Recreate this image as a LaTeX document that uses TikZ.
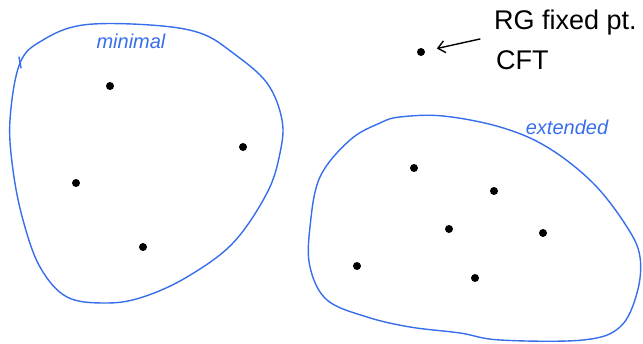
\documentclass[tikz,border=0pt]{standalone}
\usepackage{fontspec}
\setmainfont{Liberation Sans}
\usetikzlibrary{arrows.meta}
\definecolor{pen}{RGB}{55,110,235}
\tikzset{
  blob/.style={draw=pen, line width=1.4pt, line join=round},
  pt/.style={circle, fill=black, inner sep=0pt, minimum size=8pt},
  bluelabel/.style={text=pen, font=\fontsize{20}{22}\selectfont\itshape, inner sep=0pt},
  blacklabel/.style={text=black, font=\fontsize{27}{30}\selectfont, inner sep=0pt, anchor=west},
}
\begin{document}
\begin{tikzpicture}[x=1pt,y=-1pt]
\useasboundingbox (0,0) rectangle (643,344);
% minimal blob
\draw[blob] plot[smooth cycle, tension=0.6] coordinates {
 (20,63) (10,120) (13,170) (23,220) (40,267) (67,297) (107,303) (143,297)
 (187,277) (233,243) (267,193) (280,153) (282,120) (267,83) (233,53)
 (200,33) (150,25) (83,25) (43,40)};
\draw[blob, line cap=round] (19,57) -- (21,68);
% extended blob
\draw[blob] plot[smooth cycle, tension=0.6] coordinates {
 (400,117) (443,116) (500,127) (547,147) (593,183) (627,227) (640,257)
 (637,293) (620,327) (583,340) (500,340) (460,333) (410,327) (367,317)
 (327,300) (310,267) (310,227) (320,177) (350,140) (380,123)};
% labels
\node[bluelabel] (lmin) at (131,41) {minimal};
\node[bluelabel] (lext) at (567,127) {extended};
% points in minimal
\node[pt] (m1) at (110,86) {};
\node[pt] (m2) at (243,147) {};
\node[pt] (m3) at (76,183) {};
\node[pt] (m4) at (143,247) {};
% points in extended
\node[pt] (e1) at (414,168) {};
\node[pt] (e2) at (494,191) {};
\node[pt] (e3) at (449,229) {};
\node[pt] (e4) at (543,233) {};
\node[pt] (e5) at (357,266) {};
\node[pt] (e6) at (475,278) {};
% fixed point annotation
\node[pt] (fp) at (421,52) {};
\node[blacklabel] (rg) at (494,23) {RG fixed pt.};
\node[blacklabel] (cft) at (496,60) {CFT};
\coordinate (astart) at (480,39);
\draw[line width=1.4pt, line cap=round, -{Straight Barb[length=7pt,width=12pt]}, shorten >=12pt] (astart) -- (fp);
\end{tikzpicture}
\end{document}
